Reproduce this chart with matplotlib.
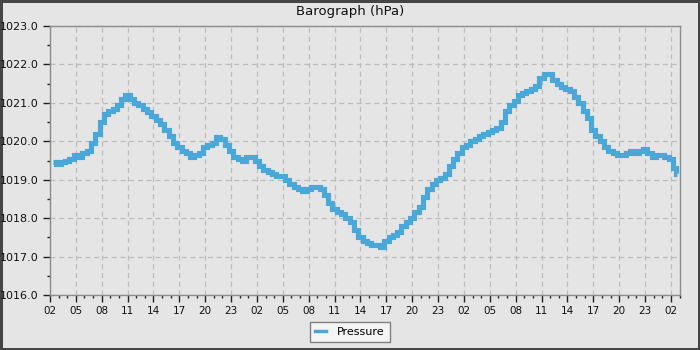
import numpy as np
import pandas as pd
import matplotlib
matplotlib.use("Agg")
import matplotlib.pyplot as plt
import matplotlib.dates as mdates
from matplotlib.lines import Line2D

# hours after the first 02:00 tick, and pressure
hours = [0.3] + [h / 2 for h in range(1, 146)] + [72.7]
pressure = [
    1019.45,
    1019.45, 1019.40, 1019.45, 1019.50, 1019.55, 1019.65, 1019.60, 1019.70, 1019.75, 1019.95,
    1020.20, 1020.50, 1020.70, 1020.80, 1020.85, 1020.95, 1021.10, 1021.20, 1021.10, 1021.00,
    1020.95, 1020.85, 1020.75, 1020.65, 1020.55, 1020.45, 1020.30, 1020.15, 1019.95, 1019.85,
    1019.75, 1019.70, 1019.60, 1019.65, 1019.70, 1019.85, 1019.90, 1019.95, 1020.10, 1020.05,
    1019.90, 1019.75, 1019.60, 1019.55, 1019.50, 1019.60, 1019.60, 1019.50, 1019.35, 1019.25,
    1019.20, 1019.15, 1019.10, 1019.10, 1019.00, 1018.90, 1018.80, 1018.75, 1018.70, 1018.75,
    1018.80, 1018.80, 1018.75, 1018.60, 1018.40, 1018.25, 1018.15, 1018.10, 1018.00, 1017.90,
    1017.70, 1017.50, 1017.40, 1017.35, 1017.30, 1017.30, 1017.25, 1017.40, 1017.50, 1017.55,
    1017.65, 1017.80, 1017.90, 1018.00, 1018.15, 1018.30, 1018.55, 1018.75, 1018.90, 1019.00,
    1019.05, 1019.15, 1019.35, 1019.55, 1019.70, 1019.85, 1019.90, 1020.00, 1020.05, 1020.15,
    1020.20, 1020.25, 1020.30, 1020.35, 1020.50, 1020.80, 1020.95, 1021.05, 1021.20, 1021.25,
    1021.30, 1021.35, 1021.45, 1021.65, 1021.75, 1021.75, 1021.60, 1021.50, 1021.40, 1021.35,
    1021.30, 1021.15, 1021.00, 1020.80, 1020.60, 1020.30, 1020.15, 1020.00, 1019.85, 1019.75,
    1019.70, 1019.65, 1019.65, 1019.70, 1019.75, 1019.70, 1019.75, 1019.80, 1019.70, 1019.60,
    1019.65, 1019.65, 1019.60, 1019.55, 1019.30,
    1019.15,
]

start = pd.Timestamp("2024-03-01 02:00")
times = start + pd.to_timedelta(hours, unit="h")

bg = "#e5e5e5"
blue = "#4aa8d8"
fig = plt.figure(figsize=(7, 3.5), dpi=100, facecolor=bg,
                 edgecolor="#454545", linewidth=2.5)
ax = fig.add_axes([50 / 700, 55 / 350, 630 / 700, 269 / 350])
ax.set_facecolor(bg)

ax.plot(times, pressure, color=blue, lw=3.7, drawstyle="steps-mid",
        solid_joinstyle="miter", solid_capstyle="butt")

ax.set_xlim(start, start + pd.Timedelta(hours=73.05))
ax.set_ylim(1016, 1023)
ax.set_yticks(np.arange(1016, 1023.5, 1.0))
ax.set_yticks(np.arange(1016.5, 1023, 1.0), minor=True)
ax.yaxis.set_major_formatter(plt.FormatStrFormatter("%.1f"))

ax.xaxis.set_major_locator(mdates.HourLocator(byhour=range(2, 24, 3)))
ax.xaxis.set_minor_locator(mdates.HourLocator())
ax.xaxis.set_major_formatter(mdates.DateFormatter("%H"))

for side in ["top", "right", "bottom", "left"]:
    ax.spines[side].set_color("#8c8c8c")
    ax.spines[side].set_linewidth(1)

ax.tick_params(which="major", length=5, width=1, color="#222222",
               labelsize=8, labelcolor="#111111", pad=3)
ax.tick_params(which="minor", length=2.5, width=1, color="#222222")
ax.tick_params(axis="x", labelsize=7.5)

ax.grid(True, which="major", color="#bdbdbd", linestyle=(0, (4, 3)), lw=0.9)
ax.set_axisbelow(True)

fig.text(0.5, 1 - 12 / 350, "Barograph (hPa)", ha="center", va="center",
         fontsize=9.5, color="#111111")

handle = Line2D([], [], color=blue, lw=2.5)
leg = fig.legend([handle], ["Pressure"], loc="lower center",
                 bbox_to_anchor=(0.5, 0.008), fontsize=8, frameon=True,
                 fancybox=False, handlelength=1.0, borderpad=0.45,
                 handletextpad=1.0)
leg.get_frame().set_facecolor("#f4f4f4")
leg.get_frame().set_edgecolor("#808080")
leg.get_frame().set_alpha(1)

fig.savefig("out.png", dpi=100, facecolor=fig.get_facecolor(),
            edgecolor=fig.get_edgecolor())
